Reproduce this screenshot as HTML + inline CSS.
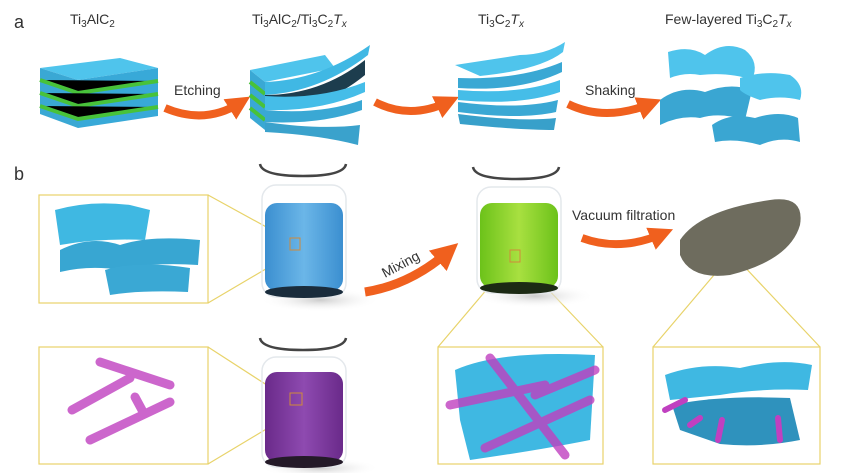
<!DOCTYPE html>
<html><head><meta charset="utf-8"><style>
html,body{margin:0;padding:0;background:#fff}
svg{display:block}
text{font-family:"Liberation Sans",sans-serif;fill:#333}
</style></head><body>
<svg width="844" height="473" viewBox="0 0 844 473" xmlns="http://www.w3.org/2000/svg">
<defs>
<linearGradient id="bl" x1="0" x2="1"><stop offset="0" stop-color="#3b8fd0"/><stop offset=".5" stop-color="#6bb6e8"/><stop offset="1" stop-color="#3b8fd0"/></linearGradient>
<linearGradient id="gr" x1="0" x2="1"><stop offset="0" stop-color="#6cc21a"/><stop offset=".5" stop-color="#a8e040"/><stop offset="1" stop-color="#6cc21a"/></linearGradient>
<linearGradient id="pu" x1="0" x2="1"><stop offset="0" stop-color="#6a2a8a"/><stop offset=".5" stop-color="#8e4ab0"/><stop offset="1" stop-color="#6a2a8a"/></linearGradient>
<radialGradient id="sh"><stop offset="0" stop-color="#ccc"/><stop offset="1" stop-color="#fff" stop-opacity="0"/></radialGradient>
<marker id="ah" viewBox="0 0 10 10" refX="5" refY="5" markerWidth="3" markerHeight="3" orient="auto"><path d="M0,0L10,5L0,10z" fill="#f0601e"/></marker>
</defs>

<text x="14" y="28" font-size="18">a</text>
<text x="70" y="24" font-size="14">Ti<tspan font-size="10" dy="3">3</tspan><tspan dy="-3">AlC</tspan><tspan font-size="10" dy="3">2</tspan></text>
<text x="252" y="24" font-size="14">Ti<tspan font-size="10" dy="3">3</tspan><tspan dy="-3">AlC</tspan><tspan font-size="10" dy="3">2</tspan><tspan dy="-3">/Ti</tspan><tspan font-size="10" dy="3">3</tspan><tspan dy="-3">C</tspan><tspan font-size="10" dy="3">2</tspan><tspan dy="-3" font-style="italic">T</tspan><tspan font-size="10" dy="3" font-style="italic">x</tspan></text>
<text x="478" y="24" font-size="14">Ti<tspan font-size="10" dy="3">3</tspan><tspan dy="-3">C</tspan><tspan font-size="10" dy="3">2</tspan><tspan dy="-3" font-style="italic">T</tspan><tspan font-size="10" dy="3" font-style="italic">x</tspan></text>
<text x="665" y="24" font-size="14">Few-layered Ti<tspan font-size="10" dy="3">3</tspan><tspan dy="-3">C</tspan><tspan font-size="10" dy="3">2</tspan><tspan dy="-3" font-style="italic">T</tspan><tspan font-size="10" dy="3" font-style="italic">x</tspan></text>

<g>
<polygon points="40,68 120,58 158,68 78,80" fill="#4fc4ec"/>
<polygon points="40,68 78,80 78,128 40,114" fill="#3aa8d4"/>
<polygon points="78,80 158,68 158,116 78,128" fill="#38a9d8"/>
<g stroke="#48c23a" stroke-width="4">
<path d="M40,80 L78,93 L158,81"/><path d="M40,93 L78,106 L158,94"/><path d="M40,106 L78,119 L158,107"/></g>
</g>
<path d="M165,108 Q205,125 240,103" fill="none" stroke="#f0601e" stroke-width="8" marker-end="url(#ah)"/>
<text x="174" y="95" font-size="14">Etching</text>

<g>
<polygon points="250,70 325,55 335,68 265,82" fill="#4fc4ec"/>
<polygon points="250,70 265,82 265,130 250,118" fill="#3aa8d4"/>
<g stroke="#48c23a" stroke-width="4"><path d="M250,82 L265,94"/><path d="M250,95 L265,107"/><path d="M250,108 L265,120"/></g>
<path d="M265,82 Q320,80 370,45 L368,55 Q320,92 265,95z" fill="#40b8e4"/>
<path d="M265,95 Q320,95 365,60 L365,75 Q320,112 265,108z" fill="#1d3d4e"/>
<path d="M265,96 Q320,100 365,82 L365,92 Q320,112 265,110z" fill="#45bde8"/>
<path d="M265,110 Q320,115 362,100 L362,110 Q320,125 265,122z" fill="#3aa8d4"/>
<path d="M265,122 Q320,130 360,125 L358,145 Q320,135 265,132z" fill="#3aa2cc"/>
</g>
<path d="M375,102 Q410,120 448,102" fill="none" stroke="#f0601e" stroke-width="8" marker-end="url(#ah)"/>

<g>
<path d="M455,65 L520,55 Q545,55 565,42 L563,52 Q540,70 480,76 z" fill="#4fc4ec"/>
<path d="M458,78 Q520,80 562,62 L562,72 Q520,92 458,88z" fill="#3aa8d4"/>
<path d="M458,90 Q520,95 560,80 L560,92 Q520,106 458,100z" fill="#45bde8"/>
<path d="M458,102 Q520,110 558,100 L556,112 Q520,120 458,112z" fill="#3aa8d4"/>
<path d="M458,114 Q520,122 556,118 L554,130 Q520,130 460,124z" fill="#38a0ca"/>
</g>
<path d="M568,104 Q605,122 650,104" fill="none" stroke="#f0601e" stroke-width="8" marker-end="url(#ah)"/>
<text x="585" y="95" font-size="14">Shaking</text>

<path d="M668,52 Q690,45 705,55 Q725,40 745,50 Q760,62 752,80 Q730,72 700,75 Q685,72 670,78z" fill="#4fc4ec"/>
<path d="M660,100 Q680,85 705,92 Q730,82 752,90 L745,120 Q720,112 700,118 Q680,115 660,125z" fill="#3aa6d2"/>
<path d="M740,78 Q765,70 790,75 Q805,85 800,100 Q780,95 760,100 Q745,95 740,90z" fill="#4fc4ec"/>
<path d="M712,125 Q730,112 755,118 Q780,110 798,118 L800,142 Q780,136 760,145 Q735,138 715,142z" fill="#3aa6d2"/>

<text x="14" y="180" font-size="18">b</text>

<g fill="none" stroke="#e8d36a" stroke-width="1.2">
<rect x="39" y="195" width="169" height="108"/>
<rect x="39" y="347" width="169" height="117"/>
<rect x="438" y="347" width="165" height="117"/>
<rect x="653" y="347" width="167" height="117"/>
<path d="M208,195 L290,240 M208,303 L298,250"/>
<path d="M208,347 L290,400 M208,464 L298,410"/>
<path d="M438,347 L510,262 M603,347 L522,262"/>
<path d="M653,347 L725,262 M820,347 L740,262"/>
</g>
<path d="M55,210 Q90,200 130,205 L150,210 L145,240 Q100,238 60,245z" fill="#3fb8e2"/>
<path d="M60,250 Q90,235 120,245 Q150,235 200,240 L198,265 Q150,262 120,270 Q90,265 60,272z" fill="#38a6d2"/>
<path d="M105,270 Q140,260 190,268 L188,292 Q140,290 110,295z" fill="#3aa8d4"/>
<g stroke="#c040c0" stroke-width="9" stroke-linecap="round" opacity=".8">
<path d="M100,362 L170,385"/><path d="M72,410 L130,378"/><path d="M90,440 L170,402"/><path d="M135,397 L142,410"/>
</g>
<path d="M455,370 Q500,350 595,355 L590,440 Q540,450 470,460 L460,420z" fill="#3fb8e2"/>
<g stroke="#c040c0" stroke-width="9" stroke-linecap="round" opacity=".8">
<path d="M450,405 L545,385"/><path d="M490,358 L565,455"/><path d="M485,448 L590,400"/><path d="M535,395 L595,370"/>
</g>
<path d="M665,375 Q700,362 740,368 Q780,358 812,365 L808,390 Q760,388 720,395 L670,400z" fill="#3fb8e2"/>
<path d="M672,405 Q720,395 790,398 L800,440 Q760,448 720,444 L680,430z" fill="#2f92bd"/>
<g stroke="#c040c0" stroke-width="6" stroke-linecap="round"><path d="M665,410 L685,400"/><path d="M690,425 L700,418"/><path d="M718,440 L722,420"/><path d="M780,440 L778,418"/></g>

<!-- beaker shadows -->
<ellipse cx="320" cy="300" rx="60" ry="12" fill="url(#sh)"/>
<ellipse cx="535" cy="296" rx="60" ry="12" fill="url(#sh)"/>
<ellipse cx="320" cy="468" rx="60" ry="10" fill="url(#sh)"/>

<!-- beakers: rims as dark arcs -->
<path d="M260,164 Q262,176 303,176 Q344,176 346,164" fill="none" stroke="#444" stroke-width="2.5"/>
<rect x="262" y="185" width="84" height="112" rx="14" fill="none" stroke="#e4e8ec" stroke-width="1.5"/>
<rect x="265" y="203" width="78" height="88" rx="12" fill="url(#bl)"/>
<ellipse cx="304" cy="292" rx="39" ry="6" fill="#1a2c3c"/>
<path d="M260,338 Q262,350 303,350 Q344,350 346,338" fill="none" stroke="#444" stroke-width="2.5"/>
<rect x="262" y="357" width="84" height="110" rx="14" fill="none" stroke="#e4e8ec" stroke-width="1.5"/>
<rect x="265" y="372" width="78" height="90" rx="12" fill="url(#pu)"/>
<ellipse cx="304" cy="462" rx="39" ry="6" fill="#241a28"/>
<path d="M473,167 Q475,179 516,179 Q557,179 559,167" fill="none" stroke="#444" stroke-width="2.5"/>
<rect x="477" y="187" width="84" height="106" rx="14" fill="none" stroke="#e4e8ec" stroke-width="1.5"/>
<rect x="480" y="203" width="78" height="85" rx="12" fill="url(#gr)"/>
<ellipse cx="519" cy="288" rx="39" ry="6" fill="#1c2a14"/>
<g fill="none" stroke="#d08a3a" stroke-width="1"><rect x="290" y="238" width="10" height="12"/><rect x="290" y="393" width="12" height="12"/><rect x="510" y="250" width="10" height="12"/><rect x="725" y="250" width="12" height="12"/></g>

<path d="M365,292 Q410,285 448,252" fill="none" stroke="#f0601e" stroke-width="9" marker-end="url(#ah)"/>
<text x="0" y="0" font-size="14" transform="translate(385,278) rotate(-28)">Mixing</text>

<text x="572" y="220" font-size="14">Vacuum filtration</text>
<path d="M582,238 Q620,252 662,234" fill="none" stroke="#f0601e" stroke-width="8" marker-end="url(#ah)"/>
<path d="M680,240 Q700,210 770,200 Q805,195 800,225 Q790,260 730,275 Q690,280 680,255z" fill="#6e6c5e"/>
</svg>
</body></html>
